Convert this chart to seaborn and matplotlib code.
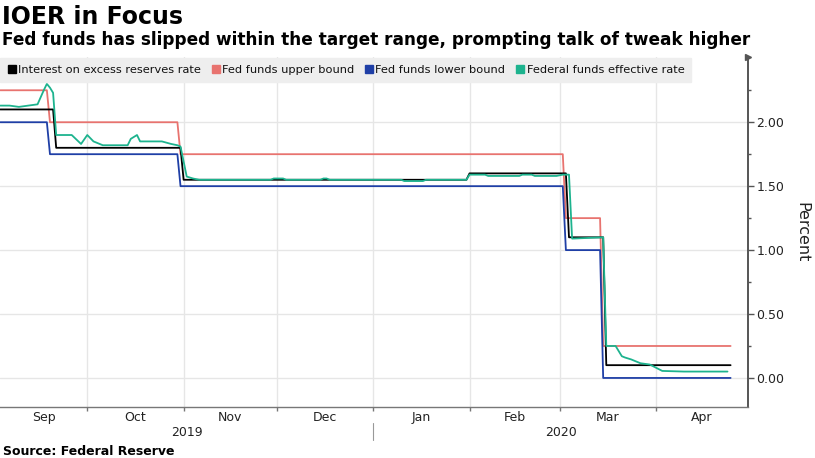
import matplotlib
matplotlib.use("Agg")
import pandas as pd
import matplotlib.pyplot as plt
import matplotlib.dates as mdates
from matplotlib.lines import Line2D
from matplotlib.transforms import blended_transform_factory
import seaborn as sns

# values
upper_dates = ["2019-09-03", "2019-09-18", "2019-09-19", "2019-10-30", "2019-10-31",
               "2020-03-02", "2020-03-03", "2020-03-14", "2020-03-15", "2020-04-25"]
upper_rates = [2.25, 2.25, 2.00, 2.00, 1.75, 1.75, 1.25, 1.25, 0.25, 0.25]

lower_dates = upper_dates
lower_rates = [2.00, 2.00, 1.75, 1.75, 1.50, 1.50, 1.00, 1.00, 0.00, 0.00]

ioer_dates = ["2019-09-03", "2019-09-20", "2019-09-21", "2019-10-31", "2019-11-01",
              "2020-01-31", "2020-02-01", "2020-03-03", "2020-03-04", "2020-03-15",
              "2020-03-16", "2020-04-25"]
ioer_rates = [2.10, 2.10, 1.80, 1.80, 1.55, 1.55, 1.60, 1.60, 1.10, 1.10, 0.10, 0.10]

effr_dates = ["2019-09-03", "2019-09-06", "2019-09-09", "2019-09-12", "2019-09-15",
              "2019-09-17", "2019-09-18", "2019-09-19", "2019-09-20", "2019-09-21",
              "2019-09-26", "2019-09-29", "2019-10-01", "2019-10-03", "2019-10-06",
              "2019-10-14", "2019-10-15", "2019-10-17", "2019-10-18", "2019-10-25",
              "2019-10-28", "2019-10-30", "2019-10-31", "2019-11-02", "2019-11-04",
              "2019-11-06", "2019-11-29", "2019-11-30", "2019-12-03", "2019-12-04",
              "2019-12-15", "2019-12-16", "2019-12-17", "2019-12-18", "2020-01-10",
              "2020-01-11", "2020-01-17", "2020-01-18", "2020-01-31", "2020-02-01",
              "2020-02-06", "2020-02-07", "2020-02-17", "2020-02-18", "2020-02-21",
              "2020-02-22", "2020-02-29", "2020-03-02", "2020-03-04", "2020-03-05",
              "2020-03-15", "2020-03-16", "2020-03-19", "2020-03-21", "2020-03-22",
              "2020-03-24", "2020-03-27", "2020-03-30", "2020-04-03", "2020-04-10",
              "2020-04-24"]
effr_rates = [2.13, 2.13, 2.12, 2.13, 2.14,
              2.25, 2.30, 2.27, 2.23, 1.90,
              1.90, 1.83, 1.90, 1.85, 1.82,
              1.82, 1.87, 1.90, 1.85, 1.85,
              1.83, 1.82, 1.81, 1.575, 1.56,
              1.55, 1.55, 1.56, 1.56, 1.55,
              1.55, 1.56, 1.56, 1.55, 1.55,
              1.54, 1.54, 1.55, 1.55, 1.59,
              1.59, 1.58, 1.58, 1.59, 1.59,
              1.58, 1.58, 1.59, 1.59, 1.09,
              1.10, 0.25, 0.25, 0.17, 0.16,
              0.145, 0.115, 0.105, 0.055, 0.05,
              0.05]

series_names = ["Interest on excess reserves rate", "Fed funds upper bound",
                "Fed funds lower bound", "Federal funds effective rate"]
series_colors = ["#000000", "#e8736f", "#1f3fa6", "#1db38e"]

month_names = ["Sep", "Oct", "Nov", "Dec", "Jan", "Feb", "Mar", "Apr"]
month_starts = ["2019-09-01", "2019-10-01", "2019-11-01", "2019-12-01", "2020-01-01",
                "2020-02-01", "2020-03-01", "2020-04-01", "2020-05-01"]
year_names = ["2019", "2020"]
y_ticks = [0.0, 0.5, 1.0, 1.5, 2.0]

sns.set_theme(style="white")
plt.rcParams["font.family"] = ["DejaVu Sans"]

fig = plt.figure(figsize=(8.15, 4.58), dpi=100)
ax = fig.add_axes([0.0, 0.1114, 0.9178, 0.7641])

frames = {
    series_names[1]: pd.DataFrame({"date": pd.to_datetime(upper_dates), "rate": upper_rates}),
    series_names[2]: pd.DataFrame({"date": pd.to_datetime(lower_dates), "rate": lower_rates}),
    series_names[0]: pd.DataFrame({"date": pd.to_datetime(ioer_dates), "rate": ioer_rates}),
    series_names[3]: pd.DataFrame({"date": pd.to_datetime(effr_dates), "rate": effr_rates}),
}
color_of = dict(zip(series_names, series_colors))
for z, (name, df) in enumerate(frames.items()):
    sns.lineplot(data=df, x="date", y="rate", ax=ax, color=color_of[name],
                 linewidth=1.3, estimator=None, zorder=3 + z)

# axes limits
x_left = mdates.date2num(pd.Timestamp("2019-09-03")) - 0.08
x_right = mdates.date2num(pd.Timestamp("2020-04-30")) + 0.6
ax.set_xlim(x_left, x_right)
ax.set_ylim(-0.227, 2.51)

# y axis on the right
ax.yaxis.tick_right()
ax.yaxis.set_label_position("right")
ax.set_yticks(y_ticks)
ax.set_yticklabels([f"{v:.2f}" for v in y_ticks])
ax.set_yticks([0.25, 0.75, 1.25, 1.75, 2.25], minor=True)
ax.tick_params(axis="y", which="major", right=True, length=4, width=1, color="#555555",
               labelsize=9, labelcolor="#222222", pad=2)
ax.tick_params(axis="y", which="minor", right=True, length=2.5, width=1, color="#555555")
ax.set_ylabel("Percent", rotation=270, fontsize=11.5, color="#222222", labelpad=18)
ax.set_xlabel("")

# x axis: month boundaries + centred month labels
bounds = [mdates.date2num(pd.Timestamp(d)) for d in month_starts]
inner = [b for b in bounds if x_left < b < x_right]
ax.set_xticks(inner)
ax.set_xticklabels([""] * len(inner))
centers = []
for a, b in zip(bounds[:-1], bounds[1:]):
    centers.append((max(a, x_left) + min(b, x_right)) / 2)
ax.set_xticks(centers, minor=True)
ax.set_xticklabels(month_names, minor=True)
ax.tick_params(axis="x", which="major", bottom=True, length=3, width=1, color="#777777")
ax.tick_params(axis="x", which="minor", bottom=True, length=0, labelsize=9,
               labelcolor="#222222", pad=3)

# grid
for v in y_ticks:
    ax.axhline(v, color="#e6e6e6", linewidth=1, zorder=1)
for b in inner:
    ax.axvline(b, color="#e6e6e6", linewidth=1, zorder=1)

# spines
for s in ["left", "top"]:
    ax.spines[s].set_visible(False)
ax.spines["right"].set_color("#555555")
ax.spines["right"].set_linewidth(1.4)
ax.spines["bottom"].set_color("#777777")
ax.spines["bottom"].set_linewidth(1)
ax.plot(1.0, 1.0, marker=">", markersize=4, color="#555555", transform=ax.transAxes,
        clip_on=False, zorder=10)

# year labels and separator
trans = blended_transform_factory(ax.transData, ax.transAxes)
jan1 = mdates.date2num(pd.Timestamp("2020-01-01"))
year_centers = [(x_left + jan1) / 2, (jan1 + x_right) / 2]
for xc, yr in zip(year_centers, year_names):
    ax.text(xc, -0.072, yr, transform=trans, ha="center", va="center", fontsize=9,
            color="#222222")
ax.plot([jan1, jan1], [-0.045, -0.095], transform=trans, clip_on=False,
        color="#999999", linewidth=0.8)

# legend
handles = [Line2D([], [], marker="s", linestyle="", color=c, markersize=6)
           for c in series_colors]
leg = ax.legend(handles, series_names, loc="upper left", bbox_to_anchor=(0.0, 0.997),
                ncol=4, frameon=True, fontsize=8.2, handletextpad=0.1,
                handlelength=0.9, columnspacing=0.85, borderaxespad=0.0,
                borderpad=0.6, fancybox=False)
leg.get_frame().set_facecolor("#eeeeee")
leg.get_frame().set_edgecolor("#eeeeee")
leg.get_frame().set_alpha(1)
for t in leg.get_texts():
    t.set_color("#111111")
leg.set_zorder(20)

# titles and source
fig.text(0.003, 1 - 5 / 458, "IOER in Focus", fontsize=17, fontweight="bold",
         va="top", ha="left", color="black")
fig.text(0.003, 1 - 31 / 458,
         "Fed funds has slipped within the target range, prompting talk of tweak higher",
         fontsize=12.2, fontweight="bold", va="top", ha="left", color="black")
fig.text(0.004, 1 - 445 / 458, "Source: Federal Reserve", fontsize=9, fontweight="bold",
         va="top", ha="left", color="black")

fig.savefig("out.png", dpi=100)
